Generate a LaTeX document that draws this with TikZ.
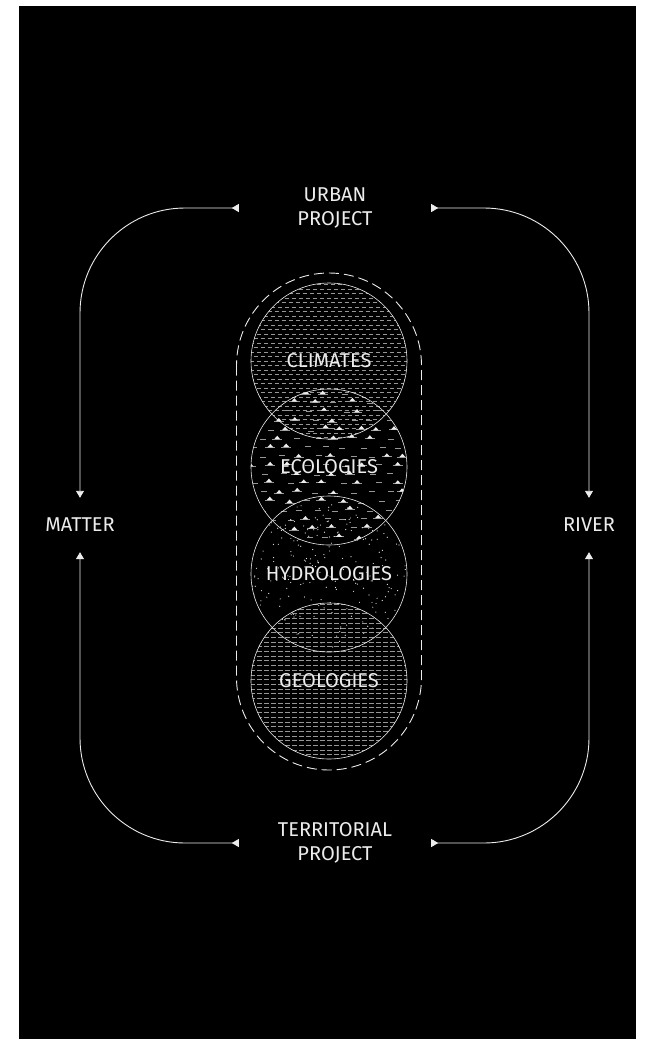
\documentclass[tikz,border=0pt]{standalone}
\usepackage{fontspec}
\setmainfont{Fira Sans}
\usetikzlibrary{positioning, arrows.meta}
\definecolor{ink}{RGB}{0,0,0}
\definecolor{chalk}{RGB}{236,236,236}
\definecolor{ash}{RGB}{150,150,150}
\newcommand{\marsh}[2]{%
  \draw[ash, line width=0.7pt] (#1-5,#2) -- (#1+5,#2);
  \fill[chalk] (#1-3,#2) -- (#1-1,#2-2.2) -- (#1,#2-3.4) -- (#1+1,#2-2.2) -- (#1+3,#2) -- cycle;}

\begin{document}
\begin{tikzpicture}[x=1pt, y=-1pt,
  label/.style={text=chalk, font=\fontsize{20}{24}\selectfont, inner sep=0pt, align=center},
  zone/.style={label, circle, draw=chalk, line width=0.6pt, minimum size=156pt},
  flow/.style={draw=chalk, line width=0.9pt, rounded corners=105pt,
    arrows={Triangle[reversed, length=7pt, width=8pt]-Triangle[length=7pt, width=8pt]}},
  shell/.style={draw=chalk, line width=0.9pt, dash pattern=on 10pt off 5pt, rounded corners=92.5pt}]
\useasboundingbox (0,0) rectangle (645,1039);
\fill[white] (0,0) rectangle (645,1039);
\fill[ink] (19,6) rectangle (636,1039);
\pgfmathsetseed{11}
\coordinate (c1) at (329,361);
\coordinate (c2) at (329,467);
\coordinate (c3) at (329,574);
\coordinate (c4) at (329,681);
\begin{scope}
  \clip (c1) circle[radius=78pt];
  \foreach \yy [count=\k] in {284.5,289,...,440}{
    \pgfmathsetmacro{\ph}{mod(\k,2)*3.5}
    \draw[ash, line width=0.9pt, dash pattern=on 4pt off 3pt, dash phase=\ph pt] (250,\yy) -- (410,\yy);
  }
\end{scope}
\begin{scope}
  \clip (c2) circle[radius=78pt];
  \foreach \yy [count=\k] in {392,401,...,546}{
    \foreach \xx in {240,258,...,412}{
      \pgfmathsetmacro{\px}{\xx+mod(\k,2)*9+5*rnd}
      \pgfmathsetmacro{\py}{\yy+3*rnd}
      \pgfmathsetmacro{\pick}{rnd}
      \ifdim\pick pt<0.45pt
        \marsh{\px}{\py}
      \else
        \draw[ash, line width=0.8pt] (\px,\py) -- ++(6,0);
      \fi
    }
  }
\end{scope}
\begin{scope}
  \clip (c3) circle[radius=78pt];
  \foreach \i in {1,...,300}{
    \pgfmathsetmacro{\px}{251+156*rnd}
    \pgfmathsetmacro{\py}{496+156*rnd}
    \fill[chalk] (\px,\py) circle[radius=0.6pt];
  }
\end{scope}
\begin{scope}
  \clip (c4) circle[radius=78pt];
  \foreach \yy in {604.5,609.2,...,760}{
    \draw[ash, line width=0.9pt, dash pattern=on 5pt off 2pt] (250,\yy) -- (410,\yy);
  }
\end{scope}
\node[zone] (climates) at (c1) {CLIMATES};
\node[zone] (ecologies) at (c2) {ECOLOGIES};
\node[zone] (hydrologies) at (c3) {HYDROLOGIES};
\node[zone] (geologies) at (c4) {GEOLOGIES};
\draw[shell] (236.5,273) rectangle (421.5,770);
\node[label, minimum width=192pt] (urban) at (335,208) {URBAN\\PROJECT};
\node[label, minimum width=192pt] (territorial) at (335,843) {TERRITORIAL\\PROJECT};
\node[label, minimum height=54pt] (matter) at (80,525) {MATTER};
\node[label, minimum height=54pt] (river) at (589,525) {RIVER};
\draw[flow] (urban.west) -| (matter.north);
\draw[flow] (urban.east) -| (river.north);
\draw[flow] (territorial.west) -| (matter.south);
\draw[flow] (territorial.east) -| (river.south);
\end{tikzpicture}
\end{document}
